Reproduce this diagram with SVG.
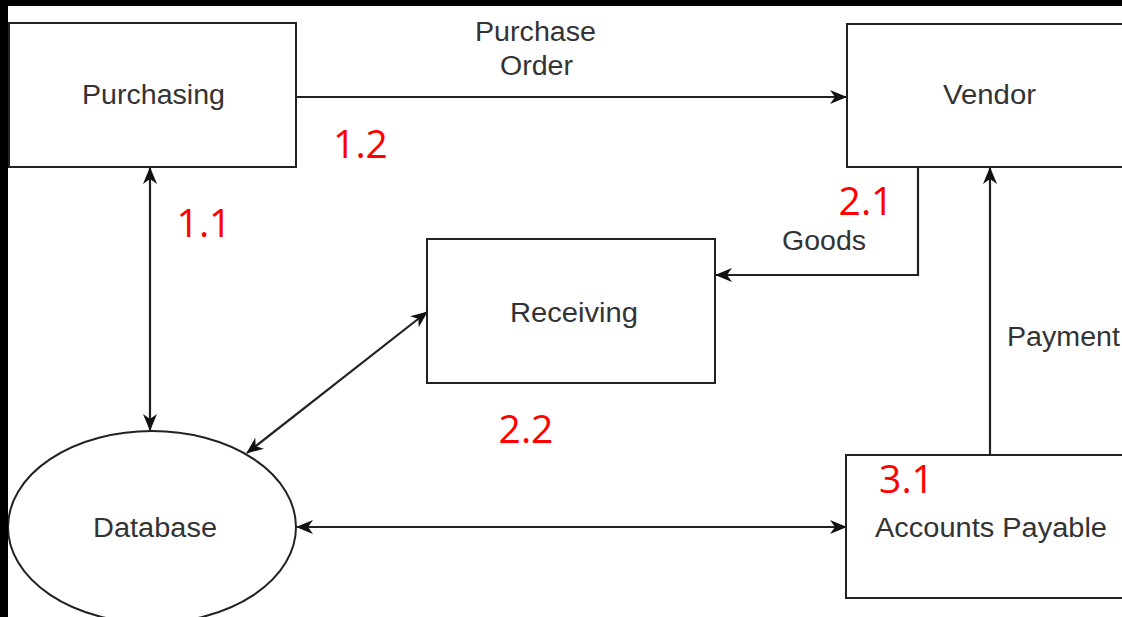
<svg xmlns="http://www.w3.org/2000/svg" width="1122" height="617" viewBox="0 0 1122 617">
<style>
.box{fill:#fff;stroke:#222;stroke-width:2}
.lbl{font-family:"Liberation Sans",Arial,sans-serif;font-size:27px;fill:#333;text-anchor:middle}
.num{font-family:"Open Sans","Noto Sans",sans-serif;font-size:39px;fill:#ff0000;text-anchor:middle}
.edge{fill:none;stroke:#222;stroke-width:2.2}
</style>
<defs>
<marker id="arr" markerUnits="userSpaceOnUse" markerWidth="17" markerHeight="14" viewBox="0 0 17 14" refX="16" refY="7" orient="auto-start-reverse">
<path d="M0,0 L17,7 L0,14 L5,7 Z" fill="#111"/>
</marker>
</defs>
<rect x="0" y="0" width="1122" height="617" fill="#fff"/>
<g id="connectors">
<path class="edge" d="M296,97 L846,97" marker-end="url(#arr)"/>
<path class="edge" d="M150,168 L150,430" marker-start="url(#arr)" marker-end="url(#arr)"/>
<path class="edge" d="M918,167 L918,275 L716,275" marker-end="url(#arr)"/>
<path class="edge" d="M247,453 L427,312" marker-start="url(#arr)" marker-end="url(#arr)"/>
<path class="edge" d="M297,527 L846,527" marker-start="url(#arr)" marker-end="url(#arr)"/>
<path class="edge" d="M990,455 L990,168" marker-end="url(#arr)"/>
<text class="lbl" x="535.5" y="41" textLength="121" lengthAdjust="spacingAndGlyphs">Purchase</text>
<text class="lbl" x="536.5" y="75" textLength="73" lengthAdjust="spacingAndGlyphs">Order</text>
<text class="lbl" x="824" y="250" textLength="84" lengthAdjust="spacingAndGlyphs">Goods</text>
<text class="lbl" x="1007" y="346" style="text-anchor:start" textLength="113" lengthAdjust="spacingAndGlyphs">Payment</text>
</g>
<g id="purchasing">
<rect class="box" x="9" y="23" width="287" height="144"/>
<text class="lbl" x="153.5" y="104" textLength="143" lengthAdjust="spacingAndGlyphs">Purchasing</text>
</g>
<g id="vendor">
<rect class="box" x="847" y="24" width="290" height="143"/>
<text class="lbl" x="989.5" y="104" textLength="93" lengthAdjust="spacingAndGlyphs">Vendor</text>
</g>
<g id="receiving">
<rect class="box" x="427" y="239" width="288" height="144"/>
<text class="lbl" x="574" y="322" textLength="128" lengthAdjust="spacingAndGlyphs">Receiving</text>
</g>
<g id="database">
<ellipse class="box" cx="152" cy="527" rx="144" ry="96"/>
<text class="lbl" x="155" y="537" textLength="124" lengthAdjust="spacingAndGlyphs">Database</text>
</g>
<g id="accounts-payable">
<rect class="box" x="846" y="455" width="290" height="143"/>
<text class="lbl" x="991" y="537" textLength="232" lengthAdjust="spacingAndGlyphs">Accounts Payable</text>
</g>
<g id="numbers">
<text class="num" x="204" y="237">1.1</text>
<text class="num" x="360.5" y="158">1.2</text>
<text class="num" x="866" y="215">2.1</text>
<text class="num" x="526" y="443">2.2</text>
<text class="num" x="906.5" y="493">3.1</text>
</g>
<rect x="0" y="0" width="1122" height="6" fill="#000"/>
<rect x="0" y="0" width="8" height="617" fill="#000"/>
</svg>
